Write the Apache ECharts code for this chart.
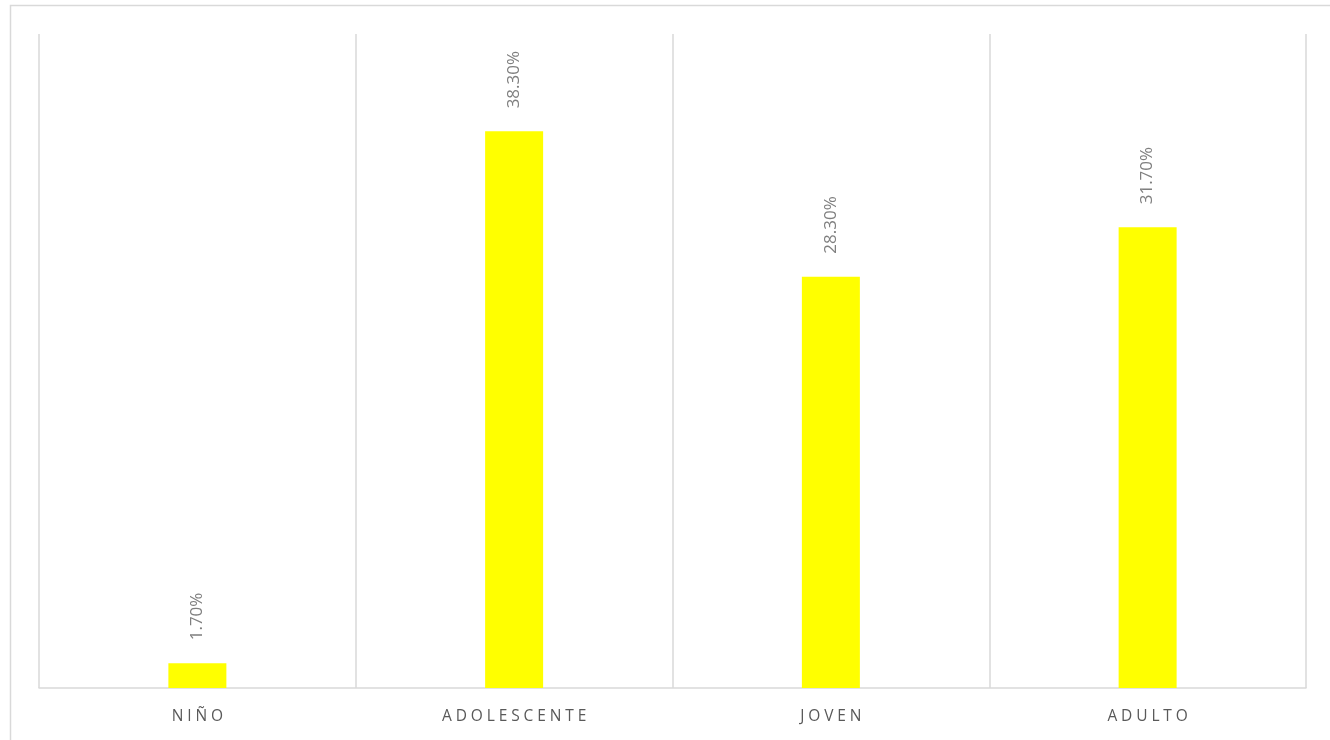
<!DOCTYPE html>
<html>
<head>
<meta charset="utf-8">
<script src="https://cdn.jsdelivr.net/npm/echarts@6/dist/echarts.min.js"></script>
<style>
  html, body { margin: 0; padding: 0; background: #fff; }
  #chart { width: 1330px; height: 740px; }
</style>
</head>
<body>
<div id="chart"></div>
<script>
// Age groups and their share (%)
const categories = ['NIÑO', 'ADOLESCENTE', 'JOVEN', 'ADULTO'];
const shares = [1.7, 38.3, 28.3, 31.7];

const chart = echarts.init(document.getElementById('chart'), null, { renderer: 'canvas' });

// Wide letter spacing for the category names
const spaced = s => s.split('').join('\u2005');

chart.setOption({
  animation: false,
  backgroundColor: '#ffffff',
  graphic: [{
    // chart frame: top and left edges
    type: 'polyline',
    shape: { points: [[10.5, 760], [10.5, 5.5], [1340, 5.5]] },
    style: { fill: 'none', stroke: '#d9d9d9', lineWidth: 1.5 },
    silent: true
  }],
  grid: { left: 39, right: 24, top: 34, bottom: 52 },
  xAxis: {
    type: 'category',
    data: categories,
    boundaryGap: true,
    axisLine: { show: true, lineStyle: { color: '#d9d9d9', width: 1.5 } },
    axisTick: { show: false },
    splitLine: { show: true, lineStyle: { color: '#d9d9d9', width: 1.5 } },
    axisLabel: {
      margin: 21,
      color: '#595959',
      fontFamily: 'Open Sans',
      fontSize: 15.5,
      formatter: v => spaced(v)
    }
  },
  yAxis: {
    type: 'value',
    min: 0,
    max: 45,
    show: false,
    splitLine: { show: false }
  },
  series: [{
    type: 'bar',
    data: shares,
    barWidth: 58,
    itemStyle: { color: '#ffff00' },
    label: {
      show: true,
      position: 'top',
      distance: 23,
      rotate: 90,
      align: 'left',
      verticalAlign: 'middle',
      color: '#7f7f7f',
      fontFamily: 'Open Sans',
      fontSize: 17,
      formatter: p => p.value.toFixed(2) + '%'
    }
  }]
});
</script>
</body>
</html>
